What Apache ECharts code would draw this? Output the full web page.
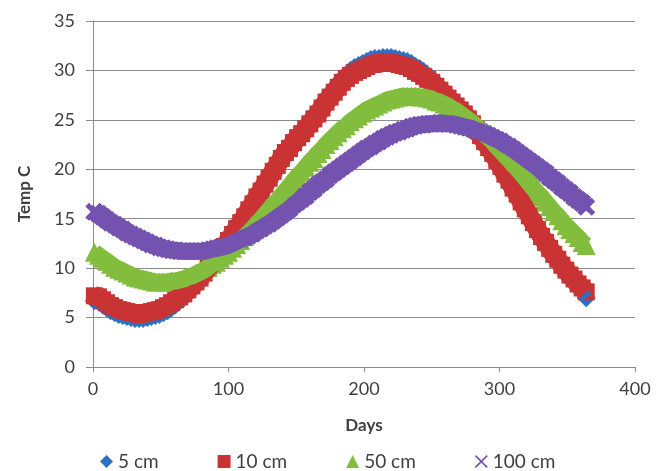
<!DOCTYPE html>
<html><head><meta charset="utf-8">
<script src="https://cdn.jsdelivr.net/npm/echarts@6/dist/echarts.min.js"></script>
<style>html,body{margin:0;padding:0;background:#fff}#c{width:665px;height:471px}</style>
</head><body><div id="c"></div>
<script>
// Day of year (x values)
const days = [
1,4,7,10,13,16,19,22,25,28,
31,34,37,40,43,46,49,52,55,58,
61,64,67,70,73,76,79,82,85,88,
91,94,97,100,103,106,109,112,115,118,
121,124,127,130,133,136,139,142,145,148,
151,154,157,160,163,166,169,172,175,178,
181,184,187,190,193,196,199,202,205,208,
211,214,217,220,223,226,229,232,235,238,
241,244,247,250,253,256,259,262,265,268,
271,274,277,280,283,286,289,292,295,298,
301,304,307,310,313,316,319,322,325,328,
331,334,337,340,343,346,349,352,355,358,
361,364];

// Temperatures (°C)
const temp5cm = [
6.7,6.6,6.3,6.0,5.7,5.5,5.3,5.2,5.1,5.0,
4.9,4.9,4.9,5.0,5.1,5.2,5.3,5.5,5.7,6.0,
6.3,6.7,7.0,7.4,7.8,8.2,8.6,9.2,9.7,10.2,
10.7,11.3,12.0,12.6,13.2,13.8,14.5,15.1,15.8,16.4,
17.2,17.8,18.5,19.1,19.9,20.5,21.2,21.8,22.3,22.9,
23.4,23.8,24.3,24.9,25.4,25.9,26.5,27.1,27.7,28.2,
28.7,29.2,29.6,30.0,30.3,30.5,30.7,30.9,31.1,31.2,
31.2,31.3,31.3,31.3,31.2,31.1,31.0,30.9,30.7,30.4,
30.2,29.9,29.5,29.2,28.8,28.4,28.0,27.6,27.1,26.7,
26.3,25.9,25.4,24.9,24.2,23.6,23.0,22.4,21.7,21.0,
20.4,19.6,18.9,18.1,17.5,16.6,15.9,15.2,14.5,13.7,
13.0,12.4,11.8,11.1,10.6,10.0,9.5,8.9,8.5,8.0,
7.6,7.0];

const temp10cm = [
7.2,7.1,6.8,6.5,6.2,6.0,5.8,5.7,5.6,5.5,
5.4,5.4,5.4,5.5,5.6,5.7,5.8,6.0,6.2,6.5,
6.8,7.1,7.4,7.8,8.2,8.6,9.0,9.5,10.0,10.5,
11.0,11.6,12.2,12.8,13.4,14.0,14.6,15.2,15.9,16.5,
17.2,17.8,18.5,19.1,19.8,20.4,21.1,21.7,22.1,22.7,
23.2,23.6,24.1,24.6,25.1,25.6,26.2,26.8,27.3,27.8,
28.3,28.8,29.2,29.5,29.8,30.0,30.2,30.4,30.6,30.7,
30.7,30.8,30.8,30.8,30.7,30.6,30.5,30.4,30.2,29.9,
29.7,29.4,29.1,28.8,28.4,28.0,27.6,27.2,26.8,26.4,
26.0,25.6,25.1,24.6,24.0,23.4,22.8,22.2,21.6,20.9,
20.3,19.5,18.9,18.1,17.5,16.7,16.0,15.3,14.6,13.9,
13.2,12.6,12.0,11.4,10.9,10.3,9.8,9.3,8.9,8.4,
8.0,7.6];

const temp50cm = [
11.6,11.3,11.0,10.7,10.4,10.1,9.9,9.7,9.5,9.3,
9.1,9.0,8.9,8.8,8.7,8.6,8.6,8.6,8.6,8.7,
8.7,8.8,8.9,9.1,9.2,9.4,9.6,9.8,10.1,10.4,
10.6,11.0,11.3,11.6,12.0,12.4,12.8,13.2,13.6,14.0,
14.5,14.9,15.4,15.9,16.4,16.8,17.3,17.8,18.3,18.8,
19.3,19.7,20.2,20.7,21.1,21.6,22.0,22.5,22.9,23.3,
23.7,24.1,24.4,24.8,25.1,25.4,25.7,26.0,26.2,26.4,
26.6,26.8,27.0,27.1,27.2,27.3,27.4,27.4,27.4,27.4,
27.3,27.3,27.2,27.1,26.9,26.8,26.6,26.4,26.1,25.9,
25.6,25.3,25.0,24.7,24.3,23.9,23.6,23.2,22.8,22.3,
21.9,21.4,21.0,20.5,20.1,19.6,19.1,18.6,18.1,17.6,
17.2,16.7,16.2,15.7,15.3,14.8,14.3,13.9,13.5,13.1,
12.6,12.3];

const temp100cm = [
15.7,15.5,15.2,14.9,14.6,14.4,14.1,13.9,13.6,13.4,
13.2,13.0,12.8,12.6,12.4,12.3,12.1,12.0,11.9,11.8,
11.8,11.7,11.7,11.7,11.7,11.7,11.7,11.7,11.8,11.9,
12.0,12.1,12.2,12.3,12.5,12.7,12.9,13.1,13.3,13.5,
13.8,14.0,14.3,14.5,14.8,15.1,15.4,15.7,16.0,16.4,
16.7,17.0,17.3,17.7,18.0,18.4,18.7,19.0,19.4,19.7,
20.0,20.3,20.6,20.9,21.2,21.5,21.8,22.1,22.3,22.6,
22.8,23.1,23.3,23.5,23.7,23.8,24.0,24.1,24.3,24.4,
24.5,24.5,24.6,24.6,24.6,24.7,24.6,24.6,24.6,24.5,
24.4,24.3,24.2,24.1,23.9,23.8,23.6,23.4,23.2,23.0,
22.8,22.5,22.3,22.0,21.7,21.4,21.1,20.8,20.5,20.2,
19.9,19.6,19.2,18.9,18.6,18.2,17.9,17.6,17.2,16.9,
16.6,16.2];

const seriesNames = ['5 cm', '10 cm', '50 cm', '100 cm'];
const xTicks = [0, 100, 200, 300, 400];
const yTicks = [0, 5, 10, 15, 20, 25, 30, 35];

const colors = ['#2B72C6', '#C93333', '#82BD3E', '#7452AF'];
const X_THICK = 'path://M0,2L2,0L5,3L8,0L10,2L7,5L10,8L8,10L5,7L2,10L0,8L3,5Z';
const X_THIN = 'path://M0,0.9L0.9,0L5,4.1L9.1,0L10,0.9L5.9,5L10,9.1L9.1,10L5,5.9L0.9,10L0,9.1L4.1,5Z';
const symbols = ['diamond', 'rect', 'triangle', X_THICK];
const legendIcons = ['diamond', 'rect', 'triangle', X_THIN];
const sizes = [19, 17, 19, 18];
const fillWidths = [12, 19, 17, 17];
const values = [temp5cm, temp10cm, temp50cm, temp100cm];

const txt = '#404040';
const font = 'Lato';
const gridColor = '#8c8c8c';

const series = [];
seriesNames.forEach((n, i) => {
  const pts = days.map((d, k) => [d, values[i][k]]);
  // continuous band body under the markers of the same series
  series.push({
    name: n, type: 'line', data: pts, showSymbol: false, symbol: 'none',
    lineStyle: {color: colors[i], width: fillWidths[i], cap: 'butt', join: 'round'},
    itemStyle: {color: colors[i]},
    emphasis: {disabled: true}, silent: true
  });
  series.push({
    name: n, type: 'scatter',
    symbol: symbols[i], symbolSize: sizes[i],
    itemStyle: {color: colors[i], opacity: 1},
    emphasis: {disabled: true},
    silent: true,
    data: pts
  });
});

const chart = echarts.init(document.getElementById('c'), null, {renderer: 'canvas'});
chart.setOption({
  animation: false,
  backgroundColor: '#ffffff',
  textStyle: {fontFamily: font},
  grid: {left: 93, right: 30, top: 21, bottom: 104, containLabel: false, outerBoundsMode: 'none'},
  legend: {
    data: seriesNames.map((n, i) => ({name: n, icon: legendIcons[i], itemStyle: {color: colors[i]}})),
    left: 100, top: 452, padding: 0,
    itemGap: 59, itemWidth: 13, itemHeight: 13,
    textStyle: {fontFamily: font, fontSize: 19, color: txt},
    selectedMode: false
  },
  xAxis: {
    type: 'value', min: xTicks[0], max: xTicks[xTicks.length - 1], interval: xTicks[1] - xTicks[0],
    name: 'Days', nameLocation: 'middle', nameGap: 50,
    nameTextStyle: {fontFamily: font, fontWeight: 'bold', fontSize: 17, color: txt},
    axisLine: {show: true, lineStyle: {color: gridColor, width: 1}},
    axisTick: {show: true, length: 5, lineStyle: {color: gridColor}},
    axisLabel: {fontFamily: font, fontSize: 18, color: txt, margin: 13},
    splitLine: {show: false}
  },
  yAxis: {
    type: 'value', min: yTicks[0], max: yTicks[yTicks.length - 1], interval: yTicks[1] - yTicks[0],
    name: 'Temp C', nameLocation: 'middle', nameGap: 60, nameRotate: 90,
    nameTextStyle: {fontFamily: font, fontWeight: 'bold', fontSize: 17, color: txt},
    axisLine: {show: true, lineStyle: {color: gridColor, width: 1}},
    axisTick: {show: true, length: 7, lineStyle: {color: gridColor}},
    axisLabel: {fontFamily: font, fontSize: 18, color: txt, margin: 18},
    splitLine: {show: true, lineStyle: {color: gridColor, width: 1}}
  },
  series: series
});
</script>
</body></html>
